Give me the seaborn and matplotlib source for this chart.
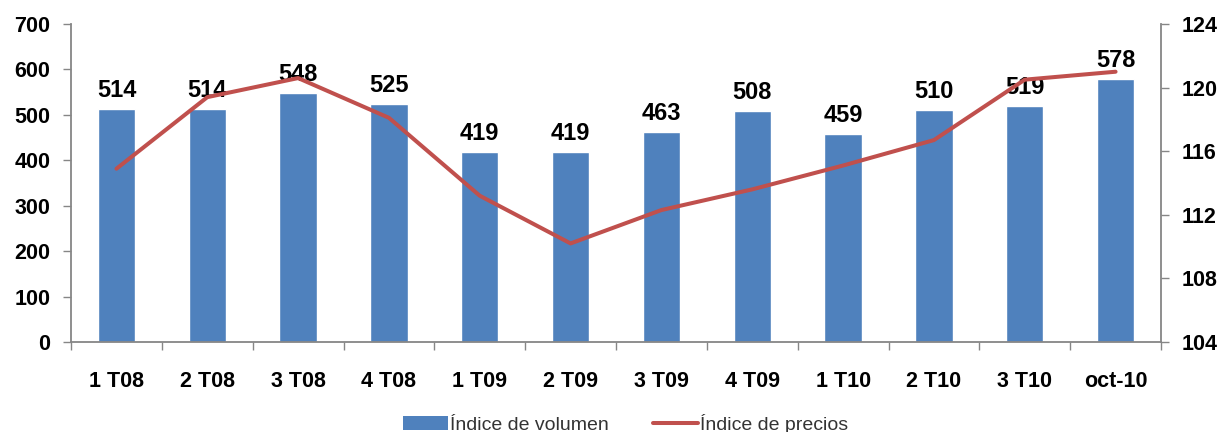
import matplotlib
matplotlib.use("Agg")
import matplotlib.pyplot as plt
import seaborn as sns
import numpy as np
import pandas as pd
from matplotlib.ticker import FixedLocator
from matplotlib.patches import Patch
from matplotlib.lines import Line2D

categories = ["1 T08", "2 T08", "3 T08", "4 T08", "1 T09", "2 T09", "3 T09",
              "4 T09", "1 T10", "2 T10", "3 T10", "oct-10"]
volumen = [514, 514, 548, 525, 419, 419, 463, 508, 459, 510, 519, 578]
precios = [114.9, 119.4, 120.6, 118.1, 113.2, 110.2, 112.3, 113.6, 115.1, 116.7, 120.5, 121.0]
left_ticks = [0, 100, 200, 300, 400, 500, 600, 700]
right_ticks = [104, 108, 112, 116, 120, 124]

sns.set_style("white")
plt.rcParams['font.family'] = ['Liberation Sans', 'DejaVu Sans']
plt.rcParams['text.color'] = 'black'
plt.rcParams['xtick.color'] = 'black'
plt.rcParams['ytick.color'] = 'black'

BAR = "#4F81BD"
LINE = "#C0504D"
AX = "#868686"

df = pd.DataFrame({"cat": categories, "vol": volumen, "pre": precios})

fig = plt.figure(figsize=(12.27, 4.32), dpi=100)
ax = fig.add_axes([0.0579, 0.2083, 0.8883, 0.7361])

sns.barplot(data=df, x="cat", y="vol", color=BAR, width=0.41, saturation=1, ax=ax)
ax.set_ylim(0, 700)
ax.set_xlim(-0.5, len(categories) - 0.5)
ax.set_yticks(left_ticks)
ax.set_xlabel("")
ax.set_ylabel("")

for i, v in enumerate(volumen):
    ax.annotate(f"{v}", (i, v), xytext=(0, 5), textcoords="offset points",
                ha="center", va="bottom", fontsize=17, fontweight="bold", color="black")

ax2 = ax.twinx()
sns.lineplot(x=np.arange(len(categories)), y=precios, color=LINE, linewidth=2.9, ax=ax2)
ax2.set_ylim(104, 124)
ax2.set_yticks(right_ticks)

for a in (ax, ax2):
    for s in a.spines.values():
        s.set_visible(False)
ax.spines["left"].set_visible(True)
ax.spines["bottom"].set_visible(True)
ax2.spines["right"].set_visible(True)
for s in (ax.spines["left"], ax.spines["bottom"], ax2.spines["right"]):
    s.set_color(AX)
    s.set_linewidth(1.3)

ax.tick_params(axis="y", direction="out", length=6, width=1, color=AX, left=True,
               labelsize=15.5, pad=9, labelcolor="black")
ax2.tick_params(axis="y", direction="out", length=6, width=1, color=AX, right=True,
                labelsize=15.5, pad=9, labelcolor="black")
for lab in ax.get_yticklabels() + ax2.get_yticklabels():
    lab.set_fontweight("bold")

ax.tick_params(axis="x", which="major", length=0, labelsize=15.5, pad=21, labelcolor="black")
ax.xaxis.set_minor_locator(FixedLocator(np.arange(-0.5, len(categories), 1.0)))
ax.tick_params(axis="x", which="minor", direction="out", length=6, width=1, color=AX, bottom=True)
for lab in ax.get_xticklabels():
    lab.set_fontweight("bold")

handles = [Patch(facecolor=BAR, edgecolor="none"),
           Line2D([0], [0], color=LINE, linewidth=2.9)]
fig.legend(handles, ["Índice de volumen", "Índice de precios"], loc="lower center",
           bbox_to_anchor=(0.51, -0.045), ncol=2, frameon=False, fontsize=14,
           handlelength=2.3, handletextpad=0.1, columnspacing=2.3, labelcolor="#333333")

fig.savefig("out.png", dpi=100)
